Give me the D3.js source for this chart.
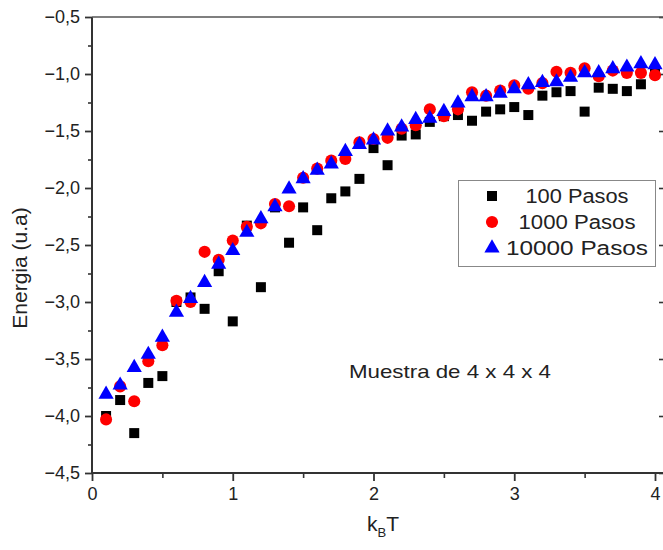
<!DOCTYPE html>
<html>
<head>
<meta charset="utf-8">
<script src="https://cdn.jsdelivr.net/npm/d3@7"></script>
<style>
  body { margin: 0; background: #fff; }
  text { font-family: Arial, "Liberation Sans", sans-serif; fill: #222; }
</style>
</head>
<body>
<script>
// kBT values, 0.1 .. 4.0
var temps = [0.1,0.2,0.3,0.4,0.5,0.6,0.7,0.8,0.9,1.0,
             1.1,1.2,1.3,1.4,1.5,1.6,1.7,1.8,1.9,2.0,
             2.1,2.2,2.3,2.4,2.5,2.6,2.7,2.8,2.9,3.0,
             3.1,3.2,3.3,3.4,3.5,3.6,3.7,3.8,3.9,4.0];

var pasos100 = [-4.00,-3.86,-4.15,-3.71,-3.65,-3.00,-2.96,-3.06,-2.73,-3.17,
                -2.33,-2.87,-2.17,-2.48,-2.17,-2.37,-2.09,-2.03,-1.92,-1.65,
                -1.80,-1.54,-1.53,-1.42,-1.37,-1.36,-1.41,-1.33,-1.31,-1.29,
                -1.36,-1.19,-1.16,-1.15,-1.33,-1.12,-1.13,-1.15,-1.09,-0.99];

var pasos1000 = [-4.03,-3.74,-3.87,-3.52,-3.38,-2.99,-3.00,-2.56,-2.63,-2.46,
                 -2.34,-2.31,-2.14,-2.16,-1.91,-1.83,-1.76,-1.745,-1.60,-1.57,
                 -1.56,-1.48,-1.45,-1.31,-1.37,-1.31,-1.16,-1.19,-1.145,-1.10,
                 -1.13,-1.08,-0.98,-0.99,-0.95,-1.02,-0.97,-0.99,-0.99,-1.01];

var pasos10000 = [-3.81,-3.73,-3.575,-3.46,-3.31,-3.09,-2.97,-2.83,-2.67,-2.55,
                  -2.39,-2.27,-2.165,-2.01,-1.92,-1.845,-1.79,-1.68,-1.62,-1.58,
                  -1.50,-1.465,-1.40,-1.39,-1.33,-1.255,-1.20,-1.20,-1.17,-1.13,
                  -1.095,-1.075,-1.07,-1.03,-0.99,-0.99,-0.955,-0.94,-0.91,-0.92];

var seriesNames = ["100 Pasos", "1000 Pasos", "10000 Pasos"];
var seriesColors = ["#000000", "#ff0000", "#0000ff"];
var xTicks = [0, 1, 2, 3, 4];
var yTicks = [-4.5, -4.0, -3.5, -3.0, -2.5, -2.0, -1.5, -1.0, -0.5];

var W = 663, H = 550;
var plotL = 92, plotT = 17, plotR = 664, plotB = 473;

var x = d3.scaleLinear().domain([0, 4.0]).range([plotL, 655]);
var y = d3.scaleLinear().domain([-4.5, -0.5]).range([plotB, plotT]);

var svg = d3.select("body").append("svg")
    .attr("width", W)
    .attr("height", H);

svg.append("rect").attr("width", W).attr("height", H).attr("fill", "#fff");

var comma = d => d3.format(".1f")(d).replace(".", ",");

// minor ticks
var gxMinor = svg.append("g")
    .attr("transform", "translate(0," + plotB + ")")
    .call(d3.axisBottom(x).tickValues([0.5, 1.5, 2.5, 3.5]).tickSize(5).tickFormat(""));
var gyMinor = svg.append("g")
    .attr("transform", "translate(" + plotL + ",0)")
    .call(d3.axisLeft(y).tickValues(d3.range(-4.25, -0.5, 0.5)).tickSize(4).tickFormat(""));
var gyRight = svg.append("g")
    .attr("transform", "translate(" + plotR + ",0)")
    .call(d3.axisRight(y).tickValues(yTicks).tickSize(-5).tickFormat(""));
[gxMinor, gyMinor, gyRight].forEach(g => {
  g.select(".domain").remove();
  g.selectAll("line").attr("stroke", "#333").attr("stroke-width", 1.6);
});

// major axes
var gx = svg.append("g")
    .attr("transform", "translate(0," + plotB + ")")
    .call(d3.axisBottom(x).tickValues(xTicks).tickSize(8).tickPadding(6).tickFormat(d3.format("d")));
var gy = svg.append("g")
    .attr("transform", "translate(" + plotL + ",0)")
    .call(d3.axisLeft(y).tickValues(yTicks).tickSize(7).tickPadding(5).tickFormat(comma));

[gx, gy].forEach(g => {
  g.select(".domain").remove();
  g.selectAll("line").attr("stroke", "#333").attr("stroke-width", 1.8);
  g.selectAll("text").attr("font-size", 18).attr("fill", "#222")
    .attr("font-family", "Arial, 'Liberation Sans', sans-serif");
});

// frame lines
svg.append("line").attr("x1", plotL).attr("x2", W).attr("y1", plotB).attr("y2", plotB)
    .attr("stroke", "#333").attr("stroke-width", 2);
svg.append("line").attr("x1", plotL).attr("x2", plotL).attr("y1", plotT).attr("y2", plotB)
    .attr("stroke", "#333").attr("stroke-width", 2);
svg.append("line").attr("x1", plotL).attr("x2", W).attr("y1", plotT).attr("y2", plotT)
    .attr("stroke", "#555").attr("stroke-width", 1.6);

// axis titles
svg.append("text")
    .attr("transform", "translate(27,268) rotate(-90)")
    .attr("text-anchor", "middle")
    .attr("font-size", 21)
    .text("Energia (u.a)");

var xt = svg.append("text")
    .attr("x", 383).attr("y", 531)
    .attr("text-anchor", "middle")
    .attr("font-size", 21);
xt.append("tspan").text("k");
xt.append("tspan").attr("font-size", 13).attr("dy", 6).text("B");
xt.append("tspan").attr("dy", -6).text("T");

// annotation
svg.append("text")
    .attr("x", 349).attr("y", 378)
    .attr("font-size", 19)
    .attr("textLength", 202).attr("lengthAdjust", "spacingAndGlyphs")
    .text("Muestra de 4 x 4 x 4");

// data
var allSeries = [pasos100, pasos1000, pasos10000];
var symbols = [d3.symbolSquare, d3.symbolCircle, d3.symbolTriangle];
var sizes = [100, 115, 100];

allSeries.forEach((vals, i) => {
  svg.append("g").selectAll("path")
    .data(vals)
    .join("path")
    .attr("transform", (d, j) => "translate(" + x(temps[j]) + "," + y(d) + ")")
    .attr("d", d3.symbol().type(symbols[i]).size(sizes[i]))
    .attr("fill", seriesColors[i]);
});

// legend
var lg = svg.append("g");
lg.append("rect")
    .attr("x", 458.5).attr("y", 180.5).attr("width", 197).attr("height", 86)
    .attr("fill", "#fff").attr("stroke", "#888").attr("stroke-width", 1);
var legendLens = [103, 117, 142];
seriesNames.forEach((name, i) => {
  var ly = 196 + i * 26;
  lg.append("path")
    .attr("transform", "translate(492," + ly + ")")
    .attr("d", d3.symbol().type(symbols[i]).size(sizes[i]))
    .attr("fill", seriesColors[i]);
  lg.append("text")
    .attr("x", 577).attr("y", ly + 7)
    .attr("text-anchor", "middle")
    .attr("font-size", 20)
    .attr("textLength", legendLens[i]).attr("lengthAdjust", "spacingAndGlyphs")
    .text(name);
});
</script>
</body>
</html>
